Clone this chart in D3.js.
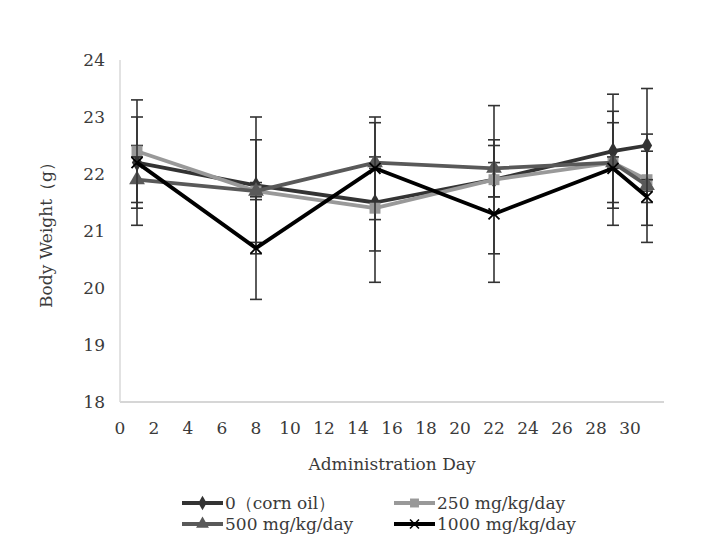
<!DOCTYPE html>
<html>
<head>
<meta charset="utf-8">
<script src="https://cdn.jsdelivr.net/npm/d3@7"></script>
<style>
  body { margin: 0; background: #fff; }
</style>
</head>
<body>
<div class="chart"></div>
<script>
// data
var days = [1, 8, 15, 22, 29, 31];
var xTicks = [0, 2, 4, 6, 8, 10, 12, 14, 16, 18, 20, 22, 24, 26, 28, 30];
var yTicks = [18, 19, 20, 21, 22, 23, 24];

var seriesNames = ["0（corn oil）", "250 mg/kg/day", "500 mg/kg/day", "1000 mg/kg/day"];
var corn = [22.2, 21.8, 21.5, 21.9, 22.4, 22.5];
var mg250 = [22.4, 21.7, 21.4, 21.9, 22.2, 21.9];
var mg500 = [21.9, 21.7, 22.2, 22.1, 22.2, 21.8];
var mg1000 = [22.2, 20.7, 22.1, 21.3, 22.1, 21.6];

// SD (error bars)
var cornSD = [1.1, 1.2, 1.4, 1.3, 1.0, 1.0];
var mg250SD = [0.1, 0.9, 0.75, 0.3, 0.7, 0.8];
var mg500SD = [0.4, 0.15, 0.1, 0.5, 0.1, 0.1];
var mg1000SD = [0.8, 0.9, 0.9, 1.2, 1.0, 0.8];

var colors = ["#333333", "#999999", "#595959", "#000000"];
var markers = ["diamond", "square", "triangle", "cross"];

var series = [
  { name: seriesNames[0], values: corn, sd: cornSD },
  { name: seriesNames[1], values: mg250, sd: mg250SD },
  { name: seriesNames[2], values: mg500, sd: mg500SD },
  { name: seriesNames[3], values: mg1000, sd: mg1000SD }
];

var width = 703, height = 542;
var fontSize = 17;

var svg = d3.select(".chart")
  .append("svg")
  .attr("width", width)
  .attr("height", height)
  .attr("font-family", "'DejaVu Serif', 'Liberation Serif', serif");

var x = d3.scaleLinear().domain([0, 32]).range([120, 664]);
var y = d3.scaleLinear().domain([18, 24]).range([402, 60]);

// axes lines
svg.append("line")
  .attr("x1", x(0)).attr("x2", x(32))
  .attr("y1", y(18)).attr("y2", y(18))
  .attr("stroke", "#c8c8c8").attr("stroke-width", 1.5);
svg.append("line")
  .attr("x1", x(0)).attr("x2", x(0))
  .attr("y1", y(18)).attr("y2", y(24))
  .attr("stroke", "#d9d9d9").attr("stroke-width", 1.5);

// tick labels
svg.selectAll(".ytick")
  .data(yTicks)
  .enter()
  .append("text")
  .attr("x", 105)
  .attr("y", function (d) { return y(d) + 6; })
  .attr("text-anchor", "end")
  .attr("font-size", fontSize)
  .attr("fill", "#3a3a3a")
  .text(function (d) { return d; });

svg.selectAll(".xtick")
  .data(xTicks)
  .enter()
  .append("text")
  .attr("x", function (d) { return x(d); })
  .attr("y", 434)
  .attr("text-anchor", "middle")
  .attr("font-size", fontSize)
  .attr("fill", "#3a3a3a")
  .text(function (d) { return d; });

svg.append("text")
  .attr("x", 392).attr("y", 470)
  .attr("text-anchor", "middle")
  .attr("font-size", fontSize)
  .attr("fill", "#3a3a3a")
  .text("Administration Day");

svg.append("text")
  .attr("transform", "translate(52,231) rotate(-90)")
  .attr("text-anchor", "middle")
  .attr("font-size", fontSize)
  .attr("fill", "#3a3a3a")
  .text("Body Weight（g）");

function markerPath(type, s) {
  if (type == "diamond") return d3.symbol().type(d3.symbolDiamond).size(s * 0.75)();
  if (type == "square") return d3.symbol().type(d3.symbolSquare).size(s)();
  if (type == "triangle") return d3.symbol().type(d3.symbolTriangle).size(s * 0.9)();
  var r = Math.sqrt(s) / 2;
  return "M" + (-r) + "," + (-r) + "L" + r + "," + r + "M" + (-r) + "," + r + "L" + r + "," + (-r);
}

var line = d3.line()
  .x(function (d, i) { return x(days[i]); })
  .y(function (d) { return y(d); });

series.forEach(function (s, k) {
  var g = svg.append("g");

  // error bars
  var eb = g.selectAll(".eb")
    .data(s.values)
    .enter()
    .append("g")
    .attr("stroke", "#333")
    .attr("stroke-width", 1.6);
  eb.append("line")
    .attr("x1", function (d, i) { return x(days[i]); })
    .attr("x2", function (d, i) { return x(days[i]); })
    .attr("y1", function (d, i) { return y(d + s.sd[i]); })
    .attr("y2", function (d, i) { return y(d - s.sd[i]); });
  eb.append("line")
    .attr("x1", function (d, i) { return x(days[i]) - 6; })
    .attr("x2", function (d, i) { return x(days[i]) + 6; })
    .attr("y1", function (d, i) { return y(d + s.sd[i]); })
    .attr("y2", function (d, i) { return y(d + s.sd[i]); });
  eb.append("line")
    .attr("x1", function (d, i) { return x(days[i]) - 6; })
    .attr("x2", function (d, i) { return x(days[i]) + 6; })
    .attr("y1", function (d, i) { return y(d - s.sd[i]); })
    .attr("y2", function (d, i) { return y(d - s.sd[i]); });

  g.append("path")
    .datum(s.values)
    .attr("d", line)
    .attr("fill", "none")
    .attr("stroke", colors[k])
    .attr("stroke-width", 3.8)
    .attr("stroke-linejoin", "round");

  g.selectAll(".mk")
    .data(s.values)
    .enter()
    .append("path")
    .attr("transform", function (d, i) { return "translate(" + x(days[i]) + "," + y(d) + ")"; })
    .attr("d", markerPath(markers[k], 120))
    .attr("fill", markers[k] == "cross" ? "none" : colors[k])
    .attr("stroke", colors[k])
    .attr("stroke-width", markers[k] == "cross" ? 1.8 : 0);
});

// legend
var legendPos = [[182, 503], [394, 503], [182, 524], [394, 524]];
series.forEach(function (s, k) {
  var p = legendPos[k];
  var lg = svg.append("g").attr("transform", "translate(" + p[0] + "," + p[1] + ")");
  lg.append("line")
    .attr("x1", 0).attr("x2", 41)
    .attr("stroke", colors[k])
    .attr("stroke-width", 3.8);
  lg.append("path")
    .attr("transform", "translate(20.5,0)")
    .attr("d", markerPath(markers[k], 80))
    .attr("fill", markers[k] == "cross" ? "none" : colors[k])
    .attr("stroke", colors[k])
    .attr("stroke-width", markers[k] == "cross" ? 1.6 : 0);
  lg.append("text")
    .attr("x", 43).attr("y", 6)
    .attr("font-size", fontSize)
    .attr("fill", "#3a3a3a")
    .text(s.name);
});
</script>
</body>
</html>
